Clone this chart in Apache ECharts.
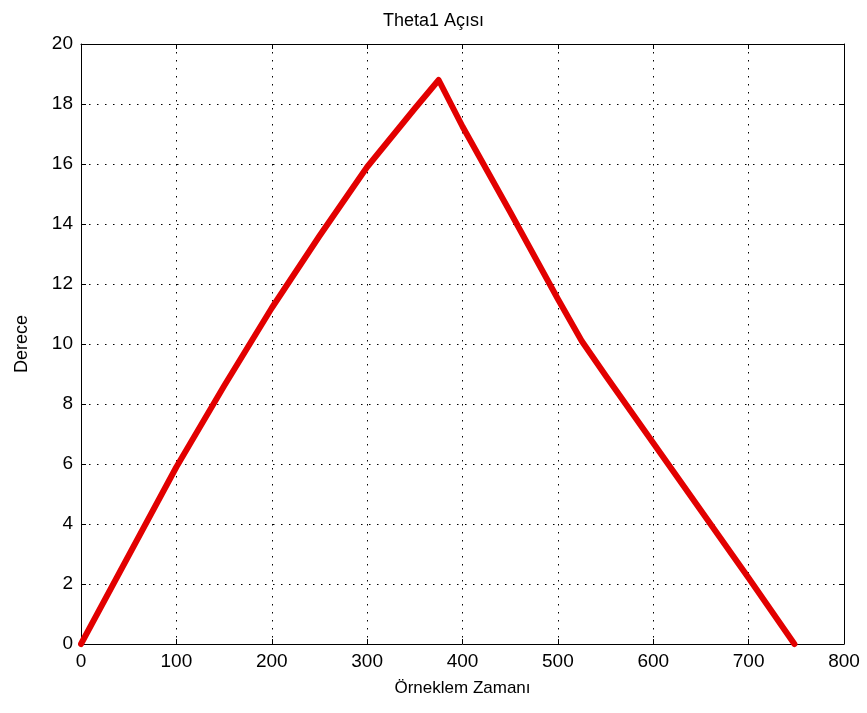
<!DOCTYPE html>
<html>
<head>
	<meta charset="utf-8">
	<title>Theta1 Açısı</title>
	<script src="https://cdn.jsdelivr.net/npm/echarts@6/dist/echarts.min.js"></script>
	<style>
		html, body { margin: 0; padding: 0; background: #fff; }
		#main { width: 867px; height: 713px; }
	</style>
</head>
<body>
<div id="main"></div>
<script>
	// örneklem zamanı (x) ve açı değerleri (derece), grafikten okunan noktalar
	var sampleTime = [0, 50, 100, 150, 200, 250, 300, 350, 375, 400, 450, 500, 525, 550, 600, 650, 700, 748];
	var theta1Deg  = [0, 2.95, 5.9, 8.6, 11.2, 13.6, 15.9, 17.85, 18.8, 17.25, 14.4, 11.5, 10.1, 8.95, 6.7, 4.45, 2.2, 0];
	var xTicks = [0, 100, 200, 300, 400, 500, 600, 700, 800];
	var yTicks = [0, 2, 4, 6, 8, 10, 12, 14, 16, 18, 20];

	var font = "'Liberation Sans', Arial, sans-serif";
	var seriesData = [];
	for (var i = 0; i < sampleTime.length; i++) {
		seriesData.push([sampleTime[i], theta1Deg[i]]);
	}

	var dotted = { color: '#000', width: 1, type: [1.5, 6.5] };
	var tickIn = { show: true, inside: true, length: 5, lineStyle: { color: '#000', width: 1 } };

	var chart = echarts.init(document.getElementById('main'));
	chart.setOption({
		animation: false,
		backgroundColor: '#fff',
		title: {
			text: 'Theta1 Açısı',
			left: 'center',
			top: 7,
			textStyle: { fontFamily: font, fontSize: 18, fontWeight: 'normal', color: '#000' }
		},
		grid: { left: 81, right: 23, top: 44, bottom: 69, containLabel: false },
		xAxis: [{
			type: 'value',
			min: xTicks[0],
			max: xTicks[xTicks.length - 1],
			interval: 100,
			name: 'Örneklem Zamanı',
			nameLocation: 'middle',
			nameGap: 36,
			nameTextStyle: { fontFamily: font, fontSize: 17, color: '#000' },
			axisLine: { show: true, onZero: false, lineStyle: { color: '#000', width: 1 } },
			axisTick: tickIn,
			axisLabel: { fontFamily: font, fontSize: 19, color: '#000', margin: 8 },
			splitLine: { show: true, lineStyle: dotted }
		}, {
			type: 'value',
			position: 'top',
			min: xTicks[0],
			max: xTicks[xTicks.length - 1],
			interval: 100,
			axisLine: { show: true, onZero: false, lineStyle: { color: '#000', width: 1 } },
			axisTick: tickIn,
			axisLabel: { show: false },
			splitLine: { show: false }
		}],
		yAxis: [{
			type: 'value',
			min: yTicks[0],
			max: yTicks[yTicks.length - 1],
			interval: 2,
			name: 'Derece',
			nameLocation: 'middle',
			nameGap: 50,
			nameTextStyle: { fontFamily: font, fontSize: 18, color: '#000' },
			axisLine: { show: true, onZero: false, lineStyle: { color: '#000', width: 1 } },
			axisTick: tickIn,
			axisLabel: { fontFamily: font, fontSize: 19, color: '#000', margin: 8 },
			splitLine: { show: true, lineStyle: dotted }
		}, {
			type: 'value',
			position: 'right',
			min: yTicks[0],
			max: yTicks[yTicks.length - 1],
			interval: 2,
			axisLine: { show: true, onZero: false, lineStyle: { color: '#000', width: 1 } },
			axisTick: tickIn,
			axisLabel: { show: false },
			splitLine: { show: false }
		}],
		series: [{
			name: 'Theta1',
			type: 'line',
			xAxisIndex: 0,
			yAxisIndex: 0,
			data: seriesData,
			showSymbol: false,
			symbol: 'none',
			clip: false,
			lineStyle: { color: '#e20000', width: 6, join: 'round', cap: 'round' }
		}]
	});
	window.onresize = chart.resize;
</script>
</body>
</html>
